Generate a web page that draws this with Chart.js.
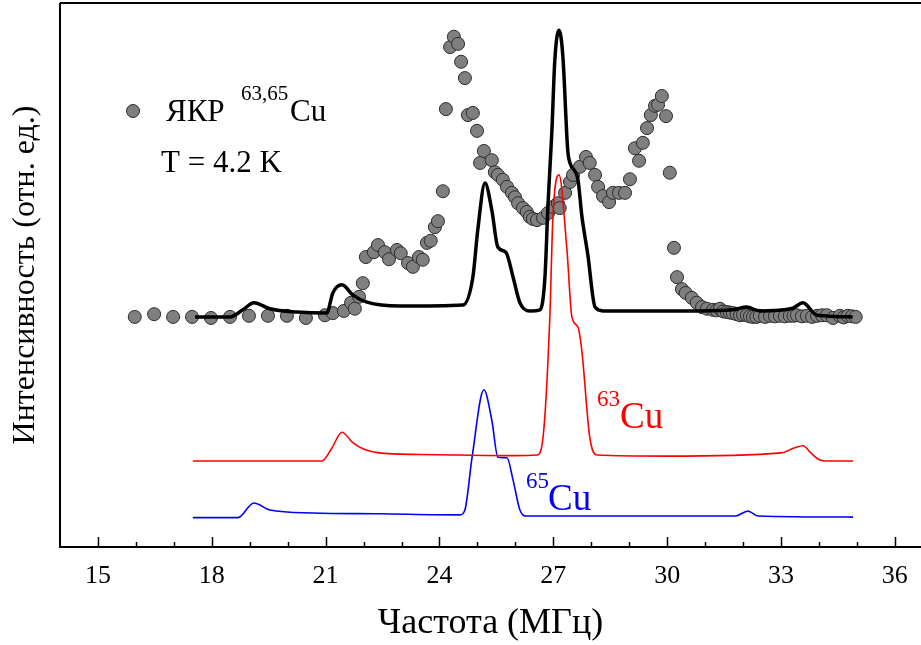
<!DOCTYPE html>
<html lang="ru">
<head>
<meta charset="utf-8">
<title>ЯКР 63,65Cu</title>
<script src="https://cdn.jsdelivr.net/npm/chart.js@4/dist/chart.umd.min.js"></script>
<style>
    html, body { margin: 0; padding: 0; background: #fff; }
    #nqr { display: block; }
</style>
</head>
<body>
<canvas id="nqr" width="921" height="645"></canvas>
<script>
// Экспериментальные точки ЯКР 63,65Cu (частота, МГц / интенсивность, отн. ед.)
const expX = [15.97, 16.48, 16.98, 17.48, 17.98, 18.48, 18.98, 19.48, 19.98, 20.48, 20.98, 21.19, 21.48, 21.67, 21.77,
    21.88, 21.98, 22.06, 22.27, 22.38, 22.56, 22.67, 22.88, 22.98, 23.17, 23.30, 23.46, 23.56, 23.67, 23.77,
    23.88, 23.96, 24.09, 24.17, 24.28, 24.38, 24.49, 24.57, 24.67, 24.75, 24.88, 24.99, 25.07, 25.17, 25.38,
    25.46, 25.54, 25.67, 25.78, 25.91, 25.99, 26.07, 26.20, 26.30, 26.38, 26.46, 26.57, 26.73, 26.86, 26.99,
    27.12, 27.17, 27.31, 27.44, 27.52, 27.70, 27.86, 27.96, 28.10, 28.18, 28.31, 28.47, 28.57, 28.73, 28.89,
    29.02, 29.15, 29.26, 29.36, 29.47, 29.57, 29.68, 29.76, 29.86, 29.97, 30.07, 30.18, 30.26, 30.39, 30.49,
    30.65, 30.78, 30.92, 31.05, 31.21, 31.30, 31.39, 31.48, 31.57, 31.65, 31.73, 31.83, 31.92, 32.00, 32.10,
    32.18, 32.26, 32.35, 32.44, 32.58, 32.71, 32.84, 32.97, 33.10, 33.23, 33.33, 33.42, 33.55, 33.68, 33.82,
    33.95, 34.08, 34.21, 34.37, 34.55, 34.65, 34.76, 34.87, 34.97];
const expY = [42.3, 42.8, 42.3, 42.3, 42.1, 42.3, 42.5, 42.5, 42.5, 42.1, 42.6, 43.0, 43.4, 44.9, 43.8,
    46.0, 48.5, 53.3, 54.2, 55.5, 54.2, 52.9, 54.6, 54.0, 52.2, 51.5, 53.3, 52.8, 55.9, 56.3,
    58.8, 59.9, 65.4, 80.5, 91.9, 93.8, 92.5, 89.2, 86.2, 79.4, 79.8, 76.5, 70.6, 72.8, 71.1,
    68.9, 68.4, 67.5, 66.2, 65.1, 64.3, 63.2, 62.3, 61.6, 60.7, 60.3, 60.1, 60.5, 61.4, 62.5,
    63.2, 62.3, 65.1, 67.1, 68.4, 69.9, 71.7, 70.6, 68.4, 66.2, 64.5, 63.4, 65.1, 65.1, 65.1,
    67.6, 73.3, 71.0, 74.3, 77.0, 79.4, 81.1, 81.3, 82.9, 79.2, 68.8, 55.0, 49.6, 47.4, 46.7,
    45.8, 44.9, 44.1, 43.8, 43.6, 43.5, 43.8, 43.3, 43.2, 43.1, 43.0, 42.8, 42.6, 42.7, 42.6,
    42.4, 42.3, 42.3, 42.5, 42.3, 42.5, 42.4, 42.5, 42.4, 42.5, 42.5, 42.6, 42.4, 42.5, 42.3,
    42.5, 42.6, 42.6, 42.1, 42.5, 42.2, 42.5, 42.4, 42.3];

// Суммарная расчётная кривая (чёрная)
const fitX = [17.56, 18.48, 18.82, 19.11, 19.53, 20.24, 21.03, 21.19, 21.43, 21.72, 22.09, 22.96, 24.62, 24.88,
    25.01, 25.20, 25.38, 25.54, 25.75, 25.94, 26.12, 26.38, 26.65, 26.78, 26.86, 26.96, 27.04, 27.15, 27.25,
    27.38, 27.44, 27.65, 27.75, 27.91, 28.10, 28.31, 30.86, 31.73, 32.10, 32.44, 33.31, 33.58, 33.95, 34.89];
const fitY = [42.3, 42.3, 43.6, 44.9, 43.8, 43.2, 43.0, 46.7, 48.2, 46.3, 45.0, 44.3, 44.5, 49.6,
    58.3, 66.9, 61.9, 55.1, 54.2, 49.6, 44.9, 43.4, 43.6, 49.6, 63.0, 76.0, 89.5, 95.0, 90.4,
    73.0, 70.6, 67.5, 61.0, 53.7, 44.1, 43.4, 43.4, 43.6, 44.1, 43.4, 43.9, 44.9, 42.6, 42.3];

// Расчётный спектр 63Cu (красный)
const cu63X = [17.5, 20.9, 21.15, 21.43, 21.7, 22.0, 22.4, 23.5, 24.5, 26.0, 26.57, 26.73, 26.91, 26.99, 27.15,
    27.36, 27.49, 27.65, 27.75, 27.96, 28.15, 30.0, 33.0, 33.35, 33.58, 33.8, 34.0, 34.2, 34.9];
const cu63Y = [15.8, 15.8, 18.0, 21.1, 19.3, 18.0, 17.3, 17.0, 16.9, 16.8, 16.9, 20.2, 42.5, 60.7, 68.4,
    54.6, 42.3, 40.4, 36.2, 20.2, 16.9, 16.7, 17.3, 18.2, 18.6, 17.2, 16.1, 15.8, 15.8];

// Расчётный спектр 65Cu (синий)
const cu65X = [17.5, 18.69, 19.11, 19.53, 20.67, 22.43, 24.54, 24.67, 24.86, 25.17, 25.38, 25.54, 25.78, 25.94,
    26.12, 26.30, 31.8, 32.13, 32.4, 34.9];
const cu65Y = [5.4, 5.4, 8.1, 6.8, 6.25, 6.1, 5.9, 6.8, 16.5, 28.9, 23.3, 16.5, 16.4, 12.3,
    6.8, 5.7, 5.7, 6.6, 5.7, 5.5];

// Подписи оси X
const xTicks = [15, 18, 21, 24, 27, 30, 33, 36];

const SERIF = '"Liberation Serif", "Times New Roman", serif';

/** Склеиваем массивы X и Y в точки {x, y} для Chart.js */
function zip(xs, ys) {
    return xs.map((x, i) => ({ x: x, y: ys[i] }));
}

/** Рамка, засечки внутрь и текстовые подписи поверх графика */
const framePlugin = {
    id: 'frame',
    afterDraw(chart) {
        const ctx = chart.ctx;
        const area = chart.chartArea;
        const xs = chart.scales.x;
        ctx.save();
        ctx.strokeStyle = '#000';
        ctx.lineWidth = 2;
        ctx.beginPath();
        ctx.moveTo(area.left, area.top);
        ctx.lineTo(area.left, area.bottom);
        ctx.lineTo(chart.width, area.bottom);
        ctx.moveTo(area.left, area.top);
        ctx.lineTo(chart.width, area.top);
        ctx.stroke();

        // засечки: большие через 3 МГц, малые через 1 МГц
        ctx.lineWidth = 1.5;
        ctx.beginPath();
        for (let v = 15; v <= 36; v++) {
            const px = Math.round(xs.getPixelForValue(v)) + 0.5;
            const len = (v % 3 === 0) ? 10 : 5;
            ctx.moveTo(px, area.bottom);
            ctx.lineTo(px, area.bottom - len);
        }
        ctx.stroke();

        // легенда
        ctx.fillStyle = '#7f7f7f';
        ctx.strokeStyle = '#2b2b2b';
        ctx.lineWidth = 1;
        ctx.beginPath();
        ctx.arc(133, 111, 6.5, 0, Math.PI * 2);
        ctx.fill();
        ctx.stroke();

        ctx.textBaseline = 'alphabetic';
        ctx.textAlign = 'left';
        ctx.fillStyle = '#000';
        ctx.font = '31px ' + SERIF;
        ctx.fillText('ЯКР', 166, 121);
        ctx.fillText('Cu', 290, 121);
        ctx.fillText('T = 4.2 K', 161, 172);
        ctx.font = '21px ' + SERIF;
        ctx.fillText('63,65', 241, 100);

        // подписи изотопов
        ctx.fillStyle = '#ff0000';
        ctx.font = '23px ' + SERIF;
        ctx.fillText('63', 597, 406);
        ctx.font = '37px ' + SERIF;
        ctx.fillText('Cu', 620, 428);

        ctx.fillStyle = '#0000ff';
        ctx.font = '23px ' + SERIF;
        ctx.fillText('65', 526, 488);
        ctx.font = '37px ' + SERIF;
        ctx.fillText('Cu', 548, 510);
        ctx.restore();
    }
};

document.addEventListener('DOMContentLoaded', function () {
    const canvas = document.getElementById('nqr');

    new Chart(canvas, {
        type: 'scatter',
        data: {
            datasets: [
                {
                    label: 'fit',
                    data: zip(fitX, fitY),
                    showLine: true,
                    borderColor: '#000',
                    borderWidth: 3.5,
                    pointRadius: 0,
                    cubicInterpolationMode: 'monotone',
                    order: 0
                },
                {
                    label: '63Cu',
                    data: zip(cu63X, cu63Y),
                    showLine: true,
                    borderColor: '#ff0000',
                    borderWidth: 1.6,
                    pointRadius: 0,
                    cubicInterpolationMode: 'monotone',
                    order: 1
                },
                {
                    label: '65Cu',
                    data: zip(cu65X, cu65Y),
                    showLine: true,
                    borderColor: '#0000ff',
                    borderWidth: 1.6,
                    pointRadius: 0,
                    cubicInterpolationMode: 'monotone',
                    order: 2
                },
                {
                    label: 'ЯКР',
                    data: zip(expX, expY),
                    showLine: false,
                    pointRadius: 6.5,
                    pointBackgroundColor: '#7f7f7f',
                    pointBorderColor: '#2b2b2b',
                    pointBorderWidth: 1,
                    order: 3
                }
            ]
        },
        options: {
            responsive: false,
            animation: false,
            devicePixelRatio: 1,
            layout: { autoPadding: false, padding: { top: 3, right: 0, left: 0, bottom: 0 } },
            plugins: {
                legend: { display: false },
                tooltip: { enabled: false }
            },
            scales: {
                x: {
                    type: 'linear',
                    min: 14,
                    max: 36.69,
                    afterFit: s => { s.height = 98; s.paddingLeft = 0; s.paddingRight = 0; },
                    afterBuildTicks: s => { s.ticks = xTicks.map(v => ({ value: v })); },
                    grid: { display: false, drawTicks: false },
                    border: { display: false },
                    ticks: {
                        color: '#000',
                        font: { family: SERIF, size: 26 },
                        padding: 14,
                        maxRotation: 0,
                        autoSkip: false
                    },
                    title: {
                        display: true,
                        text: 'Частота (МГц)',
                        color: '#000',
                        font: { family: SERIF, size: 36 },
                        padding: { top: 0, bottom: 0 }
                    }
                },
                y: {
                    type: 'linear',
                    min: 0,
                    max: 100,
                    afterFit: s => { s.width = 60; s.paddingTop = 0; s.paddingBottom = 0; },
                    grid: { display: false, drawTicks: false },
                    border: { display: false },
                    ticks: { display: false },
                    title: {
                        display: true,
                        text: 'Интенсивность (отн. ед.)',
                        color: '#000',
                        font: { family: SERIF, size: 32 },
                        padding: { top: 6, bottom: 0 }
                    }
                }
            }
        },
        plugins: [framePlugin]
    });
});
</script>
</body>
</html>
